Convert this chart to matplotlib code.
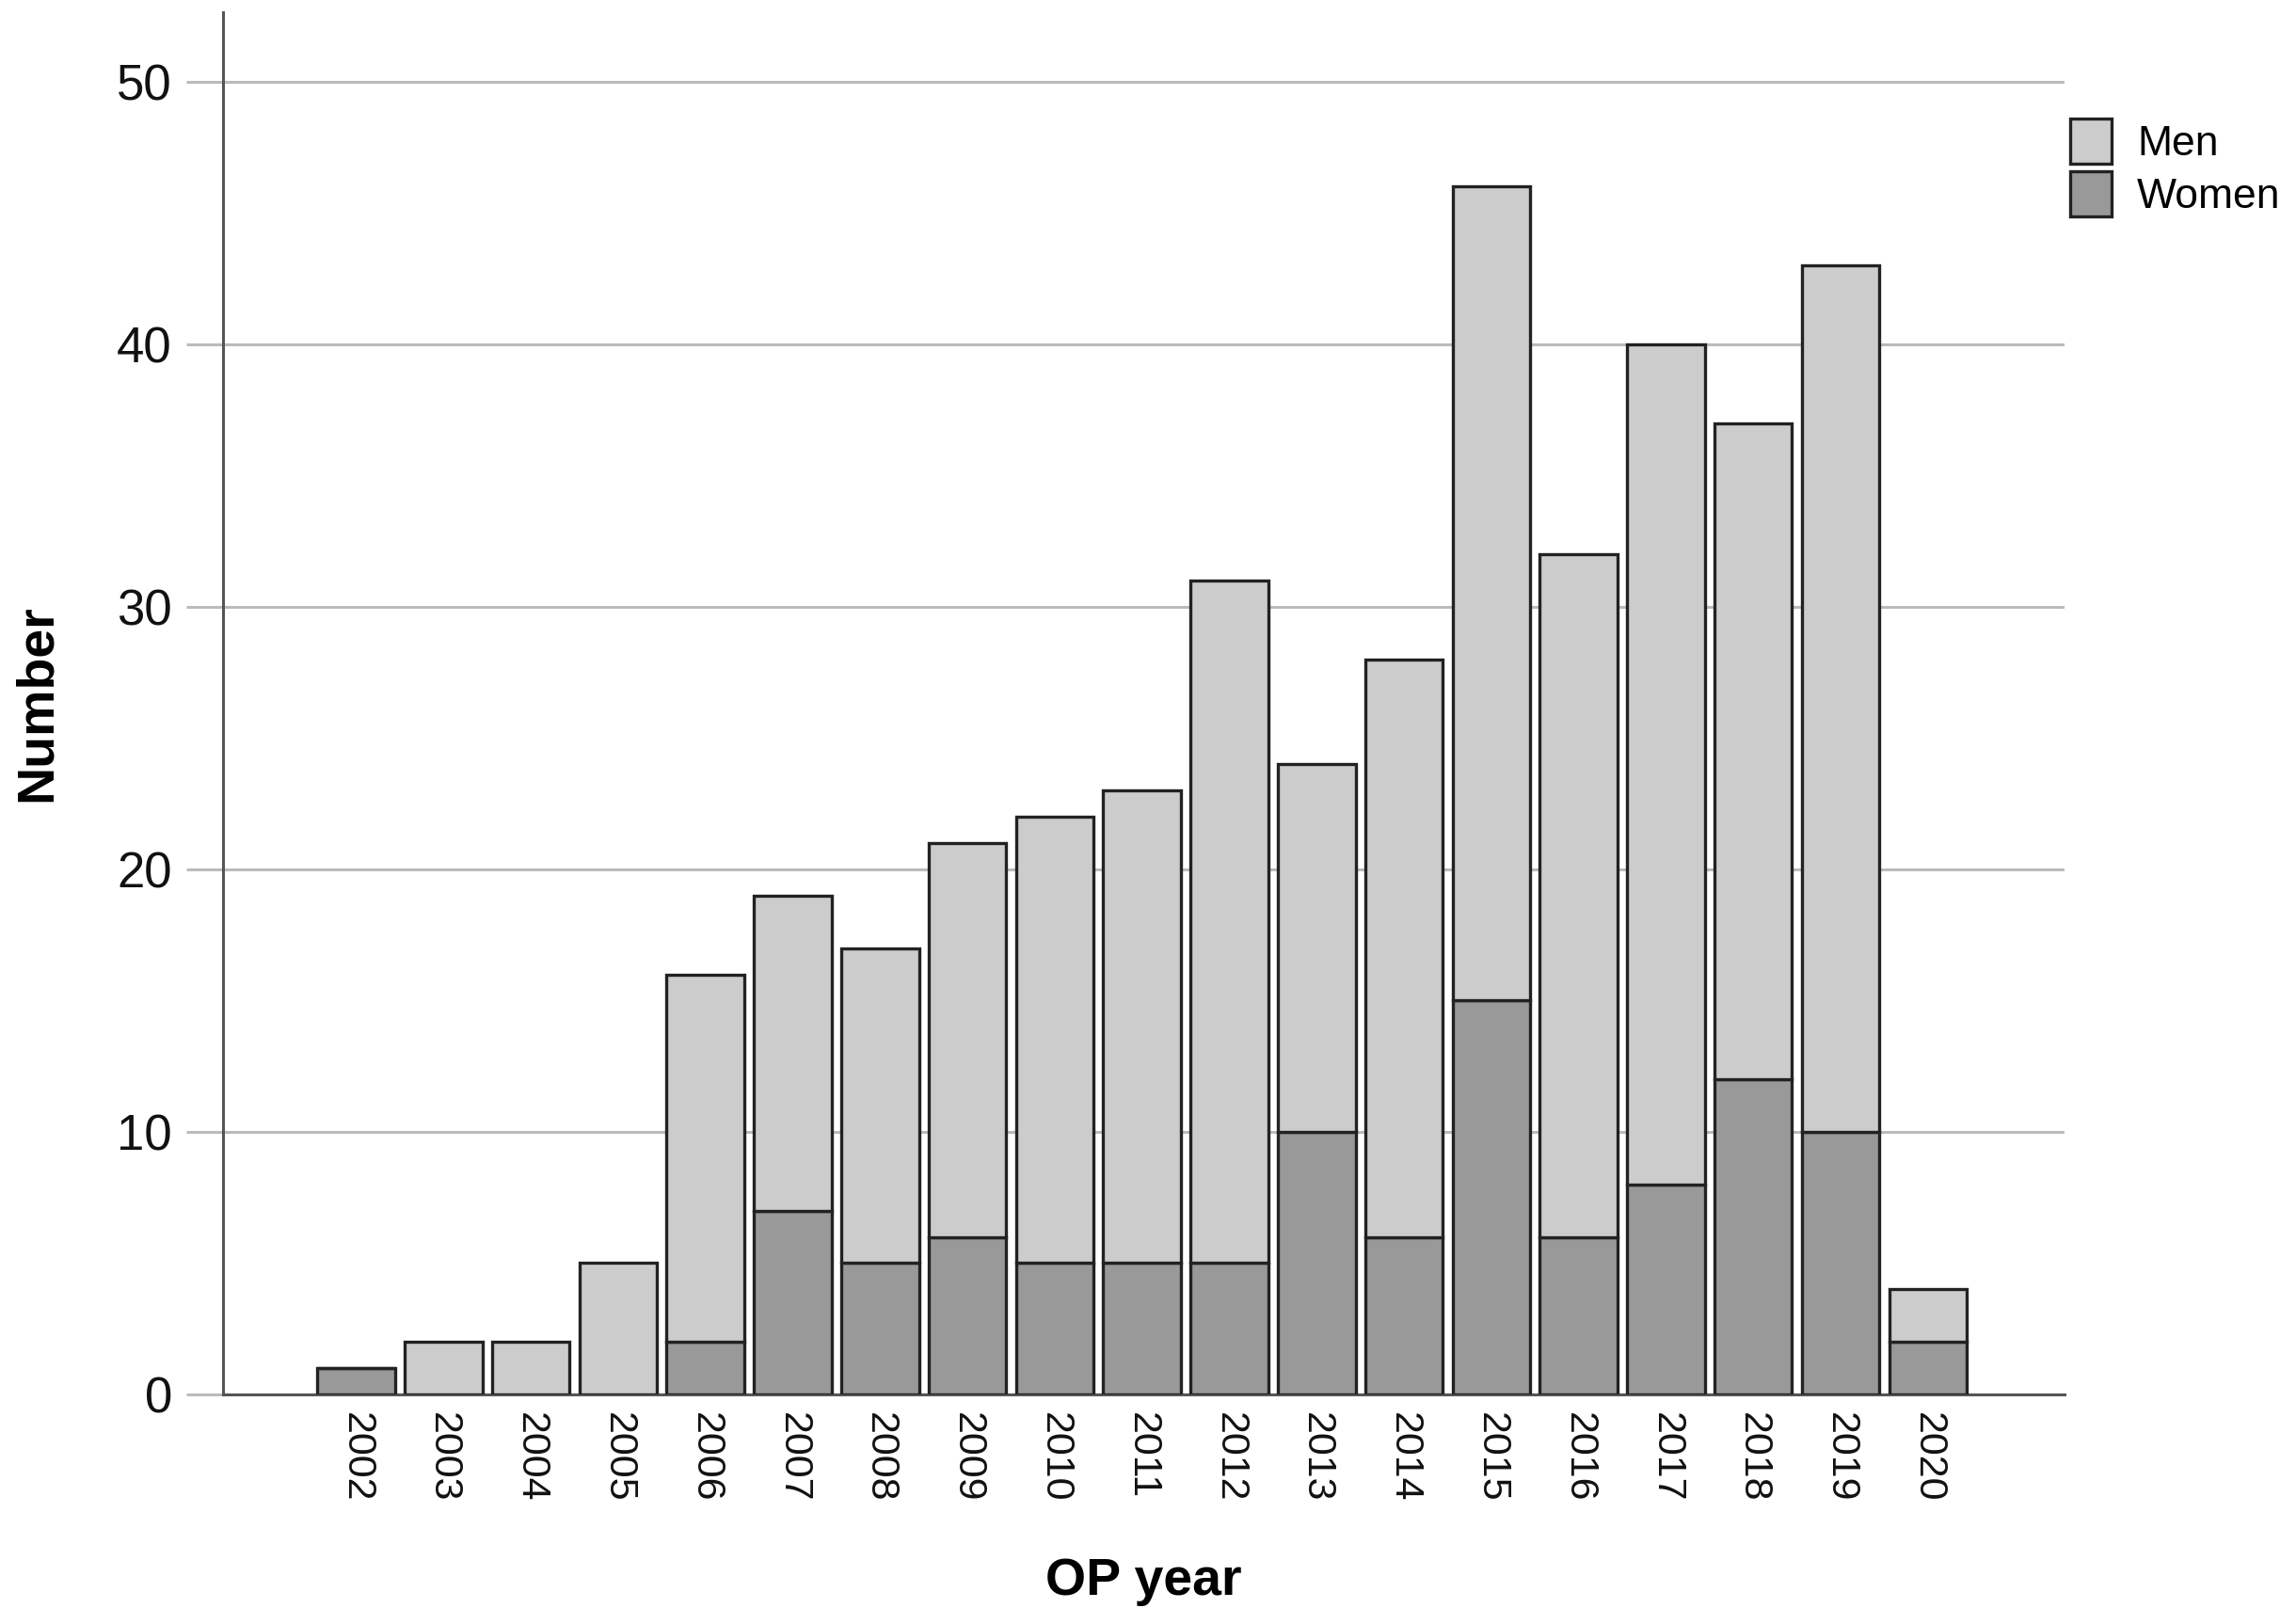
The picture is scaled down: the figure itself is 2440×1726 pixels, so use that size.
import matplotlib
matplotlib.use("Agg")
import matplotlib.pyplot as plt
from matplotlib.patches import Patch
import numpy as np

years = [2002, 2003, 2004, 2005, 2006, 2007, 2008, 2009, 2010, 2011,
         2012, 2013, 2014, 2015, 2016, 2017, 2018, 2019, 2020]
women = [1, 0, 0, 0, 2, 7, 5, 6, 5, 5, 5, 10, 6, 15, 6, 8, 12, 10, 2]
totals = [1, 2, 2, 5, 16, 19, 17, 21, 22, 23, 31, 24, 28, 46, 32, 40, 37, 43, 4]
men = [t - w for t, w in zip(totals, women)]
yticks = [0, 10, 20, 30, 40, 50]

plt.rcParams['font.family'] = ['Liberation Sans', 'DejaVu Sans']

fig = plt.figure(figsize=(24.4, 17.26), dpi=100)
ax = fig.add_axes([0.0971, 0.1414, 0.899 - 0.0971, 0.9925 - 0.1414])

x = np.arange(len(years))
width = 0.89
edge = '#222222'
lw = 2.4
ax.bar(x, women, width, color='#999999', edgecolor=edge, linewidth=lw, zorder=3)
ax.bar(x, men, width, bottom=women, color='#cccccc', edgecolor=edge, linewidth=lw, zorder=3)

ax.set_xlim(-1.525, len(years) - 1 + 1.56)
ax.set_ylim(0, 52.65)
ax.set_yticks(yticks)
ax.set_yticklabels([str(v) for v in yticks], fontsize=38, color='#111111')
ax.set_xticks(x)
ax.set_xticklabels([str(y) for y in years], rotation=270, fontsize=31, color='#111111')
ax.tick_params(axis='x', length=0, pad=14)
ax.tick_params(axis='y', length=28, width=2.2, color='#bbbbbb', pad=11)
ax.yaxis.grid(True, color='#bbbbbb', linewidth=2.2, zorder=0)
ax.set_axisbelow(True)

for s in ['top', 'right']:
    ax.spines[s].set_visible(False)
ax.spines['left'].set_color('#555555')
ax.spines['left'].set_linewidth(2.2)
ax.spines['bottom'].set_color('#555555')
ax.spines['bottom'].set_linewidth(2.2)

ax.set_ylabel('Number', fontsize=40, fontweight='bold', labelpad=42)
ax.set_xlabel('OP year', fontsize=40, fontweight='bold', labelpad=42)

handles = [Patch(facecolor='#cccccc', edgecolor=edge, linewidth=lw, label='Men'),
           Patch(facecolor='#999999', edgecolor=edge, linewidth=lw, label='Women')]
fig.legend(handles=handles, loc='upper left', bbox_to_anchor=(0.8852, 0.9504),
           frameon=False, fontsize=32, handlelength=1.0, handleheight=1.3,
           handletextpad=0.6, labelspacing=0.18)

fig.savefig('out.png', dpi=100)
